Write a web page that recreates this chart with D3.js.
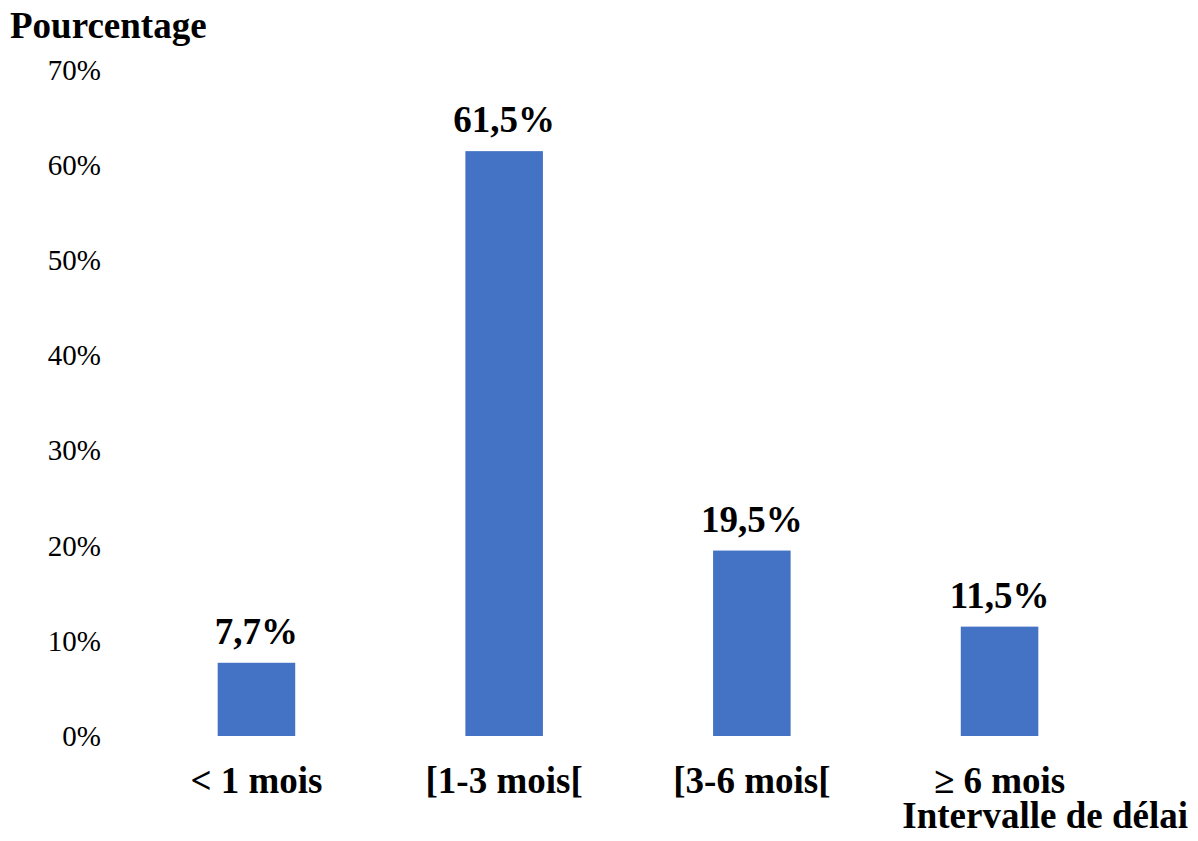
<!DOCTYPE html>
<html>
<head>
<meta charset="utf-8">
<script src="https://cdn.jsdelivr.net/npm/d3@7/dist/d3.min.js"></script>
<style>
  html, body { margin: 0; padding: 0; background: #fff; }
  svg { display: block; font-family: "Liberation Serif", "Times New Roman", serif; }
</style>
</head>
<body>
<svg id="chart" width="1198" height="841"></svg>
<script>
// Delay intervals and the share of cases in each
const categories = ["< 1 mois", "[1-3 mois[", "[3-6 mois[", "\u2265 6 mois"];
const values = [7.7, 61.5, 19.5, 11.5];
const valueLabels = ["7,7%", "61,5%", "19,5%", "11,5%"];
const yTicks = [0, 10, 20, 30, 40, 50, 60, 70];
const yTitle = "Pourcentage";
const xTitle = "Intervalle de délai";

const svg = d3.select("#chart");

const x = d3.scaleBand()
  .domain(categories)
  .range([132.6, 1123.4])
  .paddingInner(0.687)
  .paddingOuter(0.3435);

const y = d3.scaleLinear()
  .domain([0, 70])
  .range([736, 70.3]);

// Y axis: labels only, no line or tick marks
const yAxis = d3.axisLeft(y)
  .tickValues(yTicks)
  .tickFormat(d => d + "%")
  .tickSize(0)
  .tickPadding(0);

svg.append("g")
  .attr("transform", "translate(101,0)")
  .call(yAxis)
  .call(g => g.select(".domain").remove())
  .call(g => g.selectAll("text")
    .attr("font-family", "Liberation Serif, Times New Roman, serif")
    .attr("font-size", 29)
    .attr("fill", "#000"));

// X axis: bold category labels, no line
const xAxis = d3.axisBottom(x).tickSize(0).tickPadding(0);
svg.append("g")
  .attr("transform", "translate(0,766)")
  .call(xAxis)
  .call(g => g.select(".domain").remove())
  .call(g => g.selectAll("text")
    .attr("dy", 0)
    .attr("y", 27)
    .attr("font-family", "Liberation Serif, Times New Roman, serif")
    .attr("font-size", 37)
    .attr("font-weight", "bold")
    .attr("fill", "#000"));

// Bars
svg.append("g")
  .selectAll("rect")
  .data(values)
  .join("rect")
  .attr("x", (d, i) => x(categories[i]))
  .attr("y", d => y(d))
  .attr("width", x.bandwidth())
  .attr("height", d => y(0) - y(d))
  .attr("fill", "#4472C4");

// Value labels above bars
svg.append("g")
  .selectAll("text")
  .data(values)
  .join("text")
  .attr("x", (d, i) => x(categories[i]) + x.bandwidth() / 2)
  .attr("y", d => y(d) - 19)
  .attr("text-anchor", "middle")
  .attr("font-size", 37)
  .attr("font-weight", "bold")
  .attr("fill", "#000")
  .text((d, i) => valueLabels[i]);

// Axis titles
svg.append("text")
  .attr("x", 10)
  .attr("y", 38)
  .attr("font-size", 37)
  .attr("font-weight", "bold")
  .attr("fill", "#000")
  .text(yTitle);

svg.append("text")
  .attr("x", 1188)
  .attr("y", 828)
  .attr("text-anchor", "end")
  .attr("font-size", 37)
  .attr("font-weight", "bold")
  .attr("fill", "#000")
  .text(xTitle);
</script>
</body>
</html>
